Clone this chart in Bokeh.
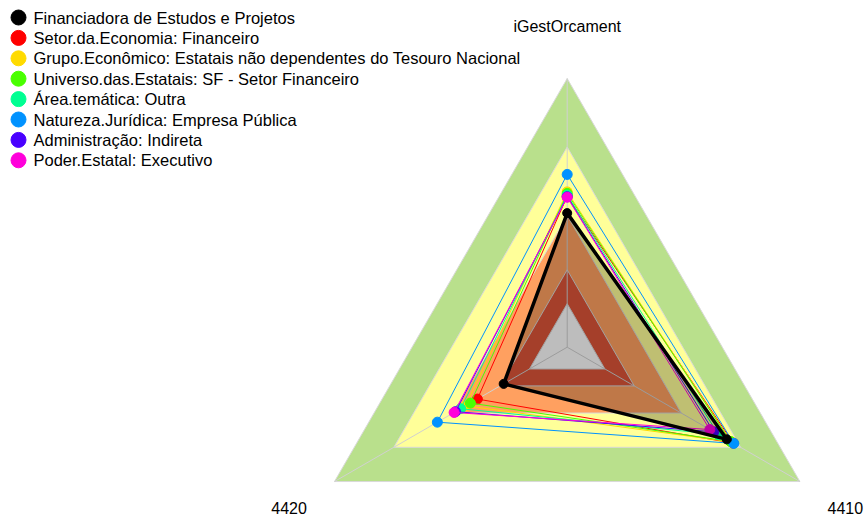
import numpy as np
from bokeh.plotting import figure
from bokeh.models import Range1d
from bokeh.core.properties import value
from bokeh.embed import file_html
from bokeh.resources import INLINE

# ---------------- data ----------------
axis_labels = ["iGestOrcament", "4410", "4420"]
axis_angles_deg = [90, -30, 210]

band_levels = [1.0, 0.745, 0.49, 0.288, 0.162]
band_colors = ["#B9E08C", "#FFFF99", "#FFA060", "#DC5538", "#FCFCFC"]

series_names = [
    "Financiadora de Estudos e Projetos",
    "Setor.da.Economia: Financeiro",
    "Grupo.Econômico: Estatais não dependentes do Tesouro Nacional",
    "Universo.das.Estatais: SF - Setor Financeiro",
    "Área.temática: Outra",
    "Natureza.Jurídica: Empresa Pública",
    "Administração: Indireta",
    "Poder.Estatal: Executivo",
]
series_colors = ["#000000", "#FF0000", "#FFDB00", "#49FF00",
                 "#00FF92", "#0092FF", "#4900FF", "#FF00DB"]
# values per axis (fraction of full scale)
v_igest = [0.499, 0.562, 0.578, 0.572, 0.566, 0.643, 0.560, 0.558]
v_4410 = [0.686, 0.714, 0.705, 0.702, 0.650, 0.716, 0.630, 0.613]
v_4420 = [0.273, 0.386, 0.436, 0.416, 0.458, 0.558, 0.480, 0.486]

# ---------------- layout ----------------
W, H = 867, 519
R = 268.7              # pixels per unit radius
CX, CY = 566.7, 346.7  # centre in canvas pixels


def px(cx, cy):
    return (cx - CX) / R, (CY - cy) / R


x0, y1 = px(0, 0)
x1, y0 = px(W, H)

p = figure(width=W, height=H, output_backend="svg", toolbar_location=None,
           x_range=Range1d(x0, x1), y_range=Range1d(y0, y1),
           x_axis_location=None, y_axis_location=None, min_border=0,
           background_fill_color="white", border_fill_color="white")
p.outline_line_color = None
p.xgrid.visible = False
p.ygrid.visible = False

ang = np.radians(axis_angles_deg)
cosa, sina = np.cos(ang), np.sin(ang)

# background bands
for lvl, col in zip(band_levels, band_colors):
    p.patch(list(lvl * cosa), list(lvl * sina), fill_color=col,
            line_color="#D9D9D9", line_width=1)

# spokes
p.segment(x0=[0] * 3, y0=[0] * 3, x1=list(cosa), y1=list(sina),
          line_color="#D0D0D0", line_width=1)

# series
vals = list(zip(v_igest, v_4410, v_4420))
order = list(range(1, len(series_names))) + [0]
for i in order:
    v = np.array(vals[i])
    xs = list(v * cosa)
    ys = list(v * sina)
    col = series_colors[i]
    if i == 0:
        p.patch(xs, ys, fill_color="black", fill_alpha=0.25,
                line_color=col, line_width=3.5)
        p.scatter(xs, ys, size=9, fill_color=col, line_color=col)
    else:
        p.patch(xs, ys, fill_alpha=0, line_color=col, line_width=1)
        p.scatter(xs, ys, size=10, fill_color=col, line_color=col)

# axis labels
r_lab = 1.195
ymin_lab = y0 + 10 / R
lx = [r_lab * c for c in cosa]
ly = [max(r_lab * s, ymin_lab) for s in sina]
p.text(lx, ly, text=axis_labels, text_align="center", text_baseline="middle",
       text_font=value("Liberation Sans"), text_font_size="16px",
       text_color="#000000")

# legend
leg_cx, leg_tx, leg_y0, leg_dy = 18, 33, 17, 20.4
lgx, lgy, ltx = [], [], []
for k in range(len(series_names)):
    a, b = px(leg_cx, leg_y0 + k * leg_dy)
    c, _ = px(leg_tx, 0)
    lgx.append(a)
    lgy.append(b)
    ltx.append(c)
p.scatter(lgx, lgy, size=15, fill_color=series_colors, line_color=series_colors)
p.text(ltx, lgy, text=series_names, text_align="left", text_baseline="middle",
       text_font=value("Liberation Sans"), text_font_size="16.5px",
       text_color="#000000")

open("out.html", "w").write(file_html(p, INLINE))
